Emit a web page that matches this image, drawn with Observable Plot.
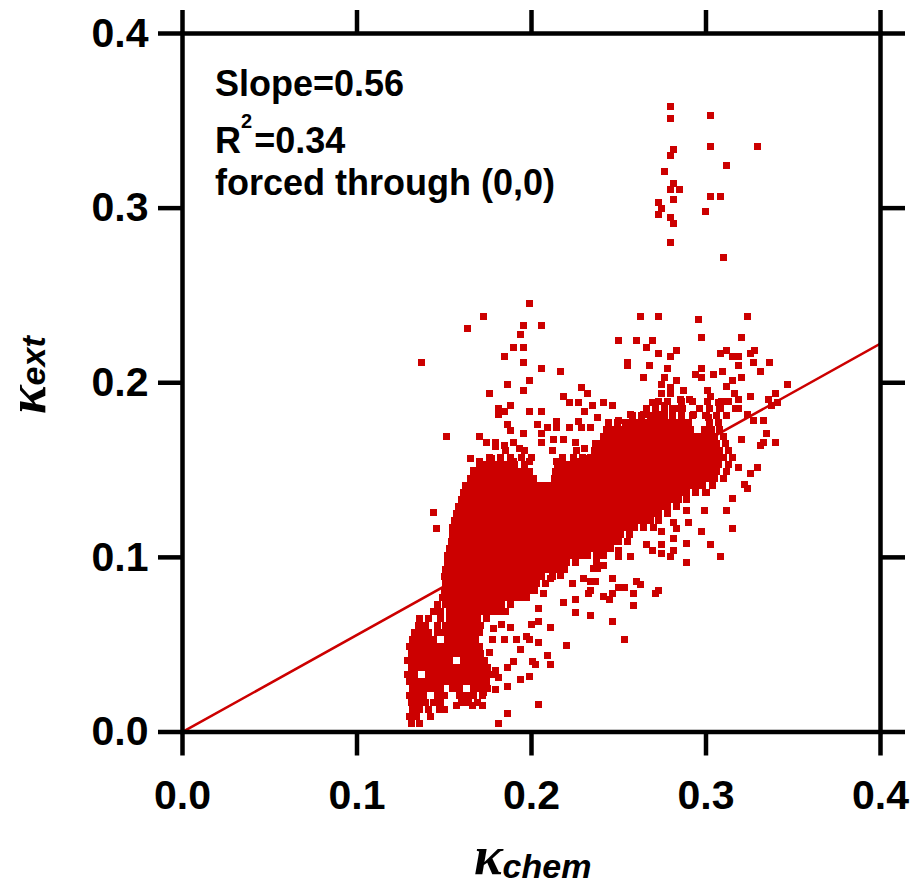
<!DOCTYPE html>
<html><head><meta charset="utf-8">
<script src="https://cdn.jsdelivr.net/npm/d3@7"></script>
<script src="https://cdn.jsdelivr.net/npm/@observablehq/plot@0.6"></script>
<style>body{margin:0;background:#fff;}</style>
</head><body><div id="chart"></div>
<script>
const xTicks = [0, 0.1, 0.2, 0.3, 0.4];
const yTicks = [0, 0.1, 0.2, 0.3, 0.4];
const fitSlope = 0.556;
const fitRange = [0, 0.4];
const slopeText = "Slope=0.56";
const r2Label = ["R", "2", "=0.34"];
const forcedText = "forced through (0,0)";
const xTitle = ["κ", "chem"];
const yTitle = ["κ", "ext"];

// rows: [kappa_ext, kappa_chem values...]
const lobeRows = [
[0.005, 0.131, 0.136],
[0.009, 0.130, 0.134, 0.142],
[0.013, 0.132, 0.136, 0.141, 0.147, 0.150],
[0.015, 0.157, 0.166, 0.172],
[0.017, 0.131, 0.135, 0.139, 0.144, 0.148, 0.160, 0.164, 0.169],
[0.021, 0.130, 0.134, 0.138, 0.146, 0.150, 0.159, 0.163, 0.167, 0.172],
[0.025, 0.132, 0.136, 0.140, 0.144, 0.148, 0.155, 0.159, 0.167, 0.171, 0.175],
[0.029, 0.130, 0.134, 0.138, 0.142, 0.146, 0.150, 0.154, 0.158, 0.162, 0.166, 0.170, 0.174],
[0.033, 0.129, 0.133, 0.141, 0.145, 0.149, 0.153, 0.157, 0.161, 0.165, 0.169, 0.173, 0.177],
[0.037, 0.131, 0.135, 0.139, 0.143, 0.147, 0.151, 0.155, 0.159, 0.163, 0.167, 0.171, 0.175],
[0.041, 0.129, 0.133, 0.137, 0.141, 0.145, 0.149, 0.153, 0.161, 0.165, 0.169, 0.173],
[0.045, 0.131, 0.135, 0.139, 0.143, 0.147, 0.151, 0.155, 0.159, 0.163, 0.167, 0.171],
[0.049, 0.130, 0.134, 0.138, 0.142, 0.146, 0.150, 0.154, 0.158, 0.162, 0.166, 0.170],
[0.053, 0.132, 0.136, 0.140, 0.144, 0.152, 0.156, 0.160, 0.164, 0.168],
[0.057, 0.133, 0.137, 0.141, 0.146, 0.150, 0.154, 0.158, 0.162, 0.166, 0.170],
[0.061, 0.135, 0.139, 0.146, 0.151, 0.155, 0.159, 0.163, 0.167, 0.171],
[0.065, 0.136, 0.141, 0.148, 0.153, 0.157, 0.161, 0.165, 0.169, 0.174]
];

const bandRows = [
[0.069, 0.144, 0.148, 0.153, 0.157, 0.161, 0.165, 0.169, 0.173, 0.177, 0.181, 0.185],
[0.073, 0.146, 0.151, 0.155, 0.159, 0.163, 0.167, 0.171, 0.175, 0.179, 0.183, 0.188],
[0.077, 0.149, 0.153, 0.157, 0.161, 0.165, 0.169, 0.173, 0.177, 0.181, 0.185, 0.189, 0.193, 0.197],
[0.081, 0.150, 0.154, 0.158, 0.162, 0.166, 0.170, 0.174, 0.178, 0.182, 0.186, 0.190, 0.194, 0.198, 0.202],
[0.085, 0.151, 0.155, 0.159, 0.163, 0.167, 0.171, 0.175, 0.179, 0.183, 0.187, 0.191, 0.195, 0.199, 0.203, 0.208],
[0.089, 0.150, 0.154, 0.158, 0.162, 0.166, 0.170, 0.174, 0.178, 0.182, 0.186, 0.190, 0.194, 0.198, 0.202, 0.206, 0.212],
[0.093, 0.151, 0.155, 0.159, 0.163, 0.167, 0.171, 0.175, 0.179, 0.183, 0.187, 0.191, 0.195, 0.199, 0.203, 0.207, 0.211, 0.215, 0.219],
[0.097, 0.152, 0.156, 0.160, 0.164, 0.168, 0.172, 0.176, 0.180, 0.184, 0.188, 0.192, 0.196, 0.200, 0.204, 0.208, 0.212, 0.216, 0.220, 0.225, 0.237],
[0.101, 0.152, 0.156, 0.160, 0.164, 0.168, 0.172, 0.176, 0.180, 0.184, 0.188, 0.192, 0.196, 0.200, 0.204, 0.208, 0.212, 0.216, 0.220, 0.224, 0.228, 0.232, 0.237, 0.241],
[0.105, 0.153, 0.157, 0.161, 0.165, 0.169, 0.173, 0.177, 0.181, 0.185, 0.189, 0.193, 0.197, 0.201, 0.205, 0.209, 0.213, 0.217, 0.221, 0.225, 0.229, 0.233, 0.237, 0.241, 0.245],
[0.109, 0.154, 0.158, 0.162, 0.166, 0.170, 0.174, 0.178, 0.182, 0.186, 0.190, 0.194, 0.198, 0.202, 0.206, 0.210, 0.214, 0.218, 0.222, 0.226, 0.230, 0.234, 0.238, 0.242, 0.246, 0.250, 0.255],
[0.113, 0.155, 0.159, 0.163, 0.167, 0.171, 0.175, 0.179, 0.183, 0.187, 0.191, 0.195, 0.199, 0.203, 0.207, 0.211, 0.215, 0.219, 0.223, 0.227, 0.231, 0.235, 0.239, 0.243, 0.247, 0.251, 0.256],
[0.117, 0.155, 0.159, 0.163, 0.167, 0.171, 0.175, 0.179, 0.183, 0.187, 0.191, 0.195, 0.199, 0.203, 0.207, 0.211, 0.215, 0.219, 0.223, 0.227, 0.231, 0.235, 0.239, 0.243, 0.247, 0.251, 0.255, 0.259, 0.264, 0.270],
[0.121, 0.156, 0.160, 0.164, 0.168, 0.172, 0.176, 0.180, 0.184, 0.188, 0.192, 0.196, 0.200, 0.204, 0.208, 0.212, 0.216, 0.220, 0.224, 0.228, 0.232, 0.236, 0.240, 0.244, 0.248, 0.252, 0.256, 0.260, 0.264, 0.268, 0.273],
[0.125, 0.157, 0.161, 0.165, 0.169, 0.173, 0.177, 0.181, 0.185, 0.189, 0.193, 0.197, 0.201, 0.205, 0.209, 0.213, 0.217, 0.221, 0.225, 0.229, 0.233, 0.237, 0.241, 0.245, 0.249, 0.253, 0.257, 0.261, 0.265, 0.269, 0.273, 0.278],
[0.129, 0.158, 0.162, 0.166, 0.170, 0.174, 0.178, 0.182, 0.186, 0.190, 0.194, 0.198, 0.202, 0.206, 0.210, 0.214, 0.218, 0.222, 0.226, 0.230, 0.234, 0.238, 0.242, 0.246, 0.250, 0.254, 0.258, 0.262, 0.266, 0.270, 0.274, 0.278, 0.283],
[0.133, 0.160, 0.164, 0.168, 0.172, 0.176, 0.180, 0.184, 0.188, 0.192, 0.196, 0.200, 0.204, 0.208, 0.212, 0.216, 0.220, 0.224, 0.228, 0.232, 0.236, 0.240, 0.244, 0.248, 0.252, 0.256, 0.260, 0.264, 0.268, 0.272, 0.276, 0.280, 0.284, 0.289],
[0.137, 0.161, 0.165, 0.169, 0.173, 0.177, 0.181, 0.185, 0.189, 0.193, 0.197, 0.201, 0.205, 0.209, 0.213, 0.217, 0.221, 0.225, 0.229, 0.233, 0.237, 0.241, 0.245, 0.249, 0.253, 0.257, 0.261, 0.265, 0.269, 0.273, 0.277, 0.281, 0.285, 0.289, 0.294, 0.300],
[0.141, 0.162, 0.166, 0.170, 0.174, 0.178, 0.182, 0.186, 0.190, 0.194, 0.198, 0.202, 0.206, 0.210, 0.214, 0.218, 0.222, 0.226, 0.230, 0.234, 0.238, 0.242, 0.246, 0.250, 0.254, 0.258, 0.262, 0.266, 0.270, 0.274, 0.278, 0.282, 0.286, 0.290, 0.294, 0.298, 0.304],
[0.145, 0.165, 0.169, 0.173, 0.177, 0.181, 0.185, 0.189, 0.193, 0.197, 0.201, 0.213, 0.217, 0.221, 0.225, 0.229, 0.233, 0.237, 0.241, 0.245, 0.249, 0.253, 0.257, 0.261, 0.265, 0.269, 0.273, 0.277, 0.281, 0.285, 0.289, 0.293, 0.297, 0.301, 0.305, 0.310],
[0.149, 0.167, 0.171, 0.175, 0.179, 0.183, 0.187, 0.191, 0.195, 0.199, 0.214, 0.218, 0.222, 0.226, 0.230, 0.234, 0.238, 0.242, 0.246, 0.250, 0.254, 0.258, 0.262, 0.266, 0.270, 0.274, 0.278, 0.282, 0.286, 0.290, 0.294, 0.298, 0.302, 0.306, 0.312],
[0.153, 0.170, 0.174, 0.178, 0.182, 0.186, 0.190, 0.196, 0.215, 0.219, 0.223, 0.227, 0.231, 0.235, 0.239, 0.243, 0.247, 0.251, 0.255, 0.259, 0.263, 0.267, 0.271, 0.275, 0.279, 0.283, 0.287, 0.291, 0.295, 0.299, 0.303, 0.307, 0.313],
[0.157, 0.176, 0.182, 0.188, 0.194, 0.200, 0.218, 0.224, 0.229, 0.234, 0.238, 0.242, 0.246, 0.250, 0.254, 0.258, 0.262, 0.266, 0.270, 0.274, 0.278, 0.282, 0.286, 0.290, 0.294, 0.298, 0.302, 0.306, 0.310, 0.315],
[0.161, 0.185, 0.196, 0.212, 0.226, 0.236, 0.240, 0.244, 0.248, 0.252, 0.256, 0.260, 0.264, 0.268, 0.272, 0.276, 0.280, 0.284, 0.288, 0.292, 0.296, 0.300, 0.304, 0.308, 0.313],
[0.165, 0.238, 0.242, 0.246, 0.250, 0.254, 0.258, 0.262, 0.266, 0.270, 0.274, 0.278, 0.282, 0.286, 0.290, 0.294, 0.298, 0.302, 0.306, 0.311],
[0.169, 0.241, 0.245, 0.249, 0.253, 0.257, 0.261, 0.265, 0.269, 0.273, 0.277, 0.281, 0.285, 0.289, 0.293, 0.297, 0.301, 0.305, 0.310],
[0.173, 0.243, 0.247, 0.251, 0.255, 0.259, 0.263, 0.267, 0.271, 0.275, 0.279, 0.283, 0.287, 0.291, 0.299, 0.303, 0.308],
[0.177, 0.244, 0.249, 0.254, 0.258, 0.262, 0.266, 0.270, 0.274, 0.278, 0.282, 0.286, 0.290, 0.302, 0.307],
[0.181, 0.258, 0.263, 0.268, 0.272, 0.276, 0.281, 0.286, 0.292, 0.300, 0.306, 0.312],
[0.185, 0.266, 0.271, 0.276, 0.281, 0.285, 0.296, 0.302, 0.308, 0.317],
[0.189, 0.273, 0.278, 0.286, 0.292, 0.301, 0.309, 0.313]
];

// scattered points [kappa_chem, kappa_ext]
const scatterPts = [
[0.1989,0.2454],[0.1725,0.2380],[0.1633,0.2311],[0.1954,0.2328],[0.2057,0.2328],[0.1937,0.2277],
[0.1897,0.2202],[0.1954,0.2202],[0.1845,0.2151],[0.1370,0.2117],[0.1954,0.2117],[0.2057,0.2082],
[0.2166,0.2065],[0.1989,0.2013],[0.1862,0.1990],[0.1759,0.1939],[0.1954,0.1956],[0.2287,0.1973],
[0.2321,0.1939],[0.2183,0.1922],[0.2218,0.1887],[0.2269,0.1887],[0.2350,0.1870],[0.1880,0.1870],
[0.1811,0.1853],[0.1845,0.1836],[0.1811,0.1818],[0.1989,0.1836],[0.2057,0.1836],[0.2304,0.1836],
[0.1862,0.1761],[0.1880,0.1727],[0.2034,0.1761],[0.2092,0.1744],[0.2143,0.1778],[0.2143,0.1744],
[0.2218,0.1744],[0.2269,0.1778],[0.2287,0.1744],[0.2338,0.1744],[0.1513,0.1692],[0.1702,0.1692],
[0.1954,0.1710],[0.2057,0.1710],[0.1742,0.1658],[0.1794,0.1658],[0.1794,0.1635],[0.1845,0.1641],
[0.1897,0.1658],[0.2126,0.1675],[0.2183,0.1675],[0.2252,0.1658],[0.2304,0.1624],[0.1931,0.1624],
[0.2057,0.1658],[0.1650,0.1566],[0.1702,0.1549],[0.1668,0.1498],[0.1771,0.1566],[0.1897,0.1549],
[0.1989,0.1549],[0.2143,0.1549],[0.2269,0.1549],[0.2327,0.1566],[0.1438,0.1258],[0.1456,0.1166],
[0.2625,0.2380],[0.2728,0.2380],[0.2957,0.2363],[0.3238,0.2380],[0.2499,0.2242],[0.2602,0.2242],
[0.2693,0.2242],[0.2659,0.2202],[0.2974,0.2259],[0.3203,0.2259],[0.2728,0.2168],[0.2831,0.2185],
[0.2797,0.2151],[0.3083,0.2168],[0.3117,0.2185],[0.3152,0.2151],[0.3186,0.2151],[0.3255,0.2168],
[0.3278,0.2185],[0.2550,0.2117],[0.2550,0.2099],[0.2676,0.2099],[0.2779,0.2082],[0.2974,0.2082],
[0.3186,0.2099],[0.3272,0.2117],[0.3364,0.2117],[0.2642,0.2030],[0.2762,0.2030],[0.2831,0.2013],
[0.2940,0.2048],[0.2974,0.2030],[0.3043,0.2048],[0.3095,0.2065],[0.3312,0.2065],[0.3152,0.2013],
[0.3203,0.2030],[0.3467,0.1990],[0.2745,0.1990],[0.2797,0.1973],[0.2871,0.1956],[0.3009,0.1956],
[0.3117,0.1979],[0.2745,0.1939],[0.2797,0.1939],[0.3163,0.1939],[0.3255,0.1922],[0.3398,0.1939],
[0.2413,0.1887],[0.2464,0.1870],[0.2693,0.1887],[0.2762,0.1870],[0.2854,0.1904],[0.2905,0.1904],
[0.3026,0.1922],[0.3072,0.1887],[0.3186,0.1904],[0.3358,0.1904],[0.3410,0.1887],[0.3375,0.1870],
[0.2378,0.1801],[0.2567,0.1818],[0.2642,0.1818],[0.2499,0.1784],[0.2739,0.1818],[0.2865,0.1853],
[0.2928,0.1818],[0.3014,0.1801],[0.3083,0.1853],[0.3186,0.1853],[0.3238,0.1818],[0.3272,0.1784],
[0.3330,0.1784],[0.2441,0.1750],[0.3347,0.1710],[0.3398,0.1658],[0.3312,0.1641],[0.3330,0.1658],
[0.3203,0.1675],[0.3295,0.1515],[0.3255,0.1481],[0.3186,0.1515],[0.3221,0.1418],[0.3238,0.1395],
[0.3152,0.1337],[0.3117,0.1269],[0.2888,0.1269],[0.2367,0.1652],[0.2413,0.1589],[0.2378,0.1549],
[0.2441,0.1418],
[0.2991,0.1269],[0.3152,0.1166],[0.2974,0.1148],[0.3026,0.1074],[0.3083,0.1005],[0.2888,0.0971],
[0.2888,0.1080],[0.2814,0.1108],[0.2831,0.1166],[0.2814,0.1200],[0.2900,0.1200],[0.2745,0.1148],
[0.2659,0.1074],[0.2745,0.1074],[0.2693,0.1040],[0.2745,0.1022],[0.2814,0.1040],[0.2797,0.1005],
[0.2567,0.1005],[0.2499,0.1040],[0.2499,0.1005],[0.2413,0.0954],[0.2378,0.0936],[0.2464,0.0879],
[0.2367,0.0862],[0.2602,0.0862],[0.2625,0.0845],[0.2499,0.0828],[0.2533,0.0828],[0.2464,0.0793],
[0.2413,0.0776],[0.2447,0.0759],[0.2585,0.0793],[0.2728,0.0810],[0.2711,0.0793],[0.2585,0.0725],
[0.2464,0.0633],[0.2533,0.0530],
[0.2109,0.0387],[0.2092,0.0438],[0.2023,0.0387],[0.2006,0.0404],[0.1897,0.0404],[0.1862,0.0369],
[0.1811,0.0312],[0.1794,0.0352],[0.1759,0.0455],[0.1777,0.0530],[0.1845,0.0530],[0.1914,0.0530],
[0.1937,0.0473],[0.1971,0.0547],[0.1989,0.0530],[0.2040,0.0513],[0.2109,0.0599],[0.2040,0.0633],
[0.2000,0.0616],[0.1880,0.0599],[0.1828,0.0616],[0.1782,0.0593],[0.2201,0.0496],[0.2252,0.0685],
[0.2338,0.0668],[0.2183,0.0742],[0.2252,0.0759],[0.2327,0.0793],[0.2338,0.0810],[0.2298,0.0879],
[0.2235,0.0851],[0.2166,0.0896],[0.2109,0.0879],[0.2069,0.0793],[0.2040,0.0707],[0.2338,0.0862],
[0.2355,0.0936],[0.1937,0.0301],[0.1989,0.0318],[0.2040,0.0157],[0.1725,0.0226],[0.1811,0.0049],
[0.1862,0.0106],[0.1628,0.0203],[0.1862,0.0260],[0.1794,0.0243]
];

const outlierPts = [
[0.2795,0.3582],[0.2795,0.3514],[0.3024,0.3532],[0.2812,0.3337],[0.2795,0.3302],[0.3024,0.3354],
[0.3294,0.3354],[0.3116,0.3245],[0.2760,0.3211],[0.2812,0.3142],[0.2795,0.3107],[0.2846,0.3107],
[0.2812,0.3050],[0.3024,0.3067],[0.3082,0.3067],[0.2725,0.3033],[0.2743,0.2999],[0.2725,0.2964],
[0.2997,0.2981],[0.2795,0.2947],[0.2812,0.2913],[0.2795,0.2804],[0.3099,0.2718]
];

const points = [];
for (const row of [...lobeRows, ...bandRows]) {
  for (let i = 1; i < row.length; i++) points.push({x: row[i], y: row[0]});
}
for (const [x, y] of [...scatterPts, ...outlierPts]) points.push({x, y});
const fit = fitRange.map(x => ({x, y: fitSlope * x}));

const red = "#cc0000";
const fmt = d3.format(".1f");
const svg = Plot.plot({
  width: 915, height: 885,
  marginLeft: 182, marginRight: 35, marginTop: 33, marginBottom: 153.5,
  style: {fontFamily: "'Liberation Sans', Arial, sans-serif", background: "#fff", color: "#000"},
  x: {domain: [0, 0.4]},
  y: {domain: [0, 0.4]},
  marks: [
    Plot.line(fit, {x: "x", y: "y", stroke: red, strokeWidth: 2.5, clip: true}),
    Plot.dot(points, {x: "x", y: "y", symbol: "square", r: 3.95, fill: red, shapeRendering: "crispEdges"}),
    Plot.frame({stroke: "#000", strokeWidth: 4.5}),
    Plot.axisX(xTicks, {anchor: "bottom", tickSize: 24, tickPadding: 24, strokeWidth: 4.5, tickFormat: fmt, fontSize: 41, fontWeight: "bold", label: null}),
    Plot.axisX(xTicks, {anchor: "top", tickSize: 24, strokeWidth: 4.5, tickFormat: () => "", label: null}),
    Plot.axisY(yTicks, {anchor: "left", tickSize: 24, tickPadding: 10, strokeWidth: 4.5, tickFormat: fmt, fontSize: 41, fontWeight: "bold", label: null}),
    Plot.axisY(yTicks, {anchor: "right", tickSize: 24, strokeWidth: 4.5, tickFormat: () => "", label: null})
  ]
});
document.getElementById("chart").appendChild(svg);

const s = d3.select(svg);
const ann = s.append("g").attr("font-family", "'Liberation Sans', Arial, sans-serif").attr("font-weight", "bold").attr("font-size", 36).attr("fill", "#000").attr("text-anchor", "start");
ann.append("text").attr("x", 215).attr("y", 96).text(slopeText);
const r2 = ann.append("text").attr("x", 215).attr("y", 153);
r2.append("tspan").text(r2Label[0]);
r2.append("tspan").attr("dy", -25).attr("font-size", 20).text(r2Label[1]);
r2.append("tspan").attr("dy", 25).attr("dx", 2).text(r2Label[2]);
ann.append("text").attr("x", 215).attr("y", 195).text(forcedText);

const xt = s.append("text").attr("x", 474).attr("y", 874).attr("text-anchor", "start").attr("font-weight", "bold").attr("font-style", "italic").attr("fill", "#000");
xt.append("tspan").attr("font-family", "'Liberation Serif', serif").attr("font-size", 54).text(xTitle[0]);
xt.append("tspan").attr("font-family", "'Liberation Sans', Arial, sans-serif").attr("font-size", 34).attr("dy", 4).text(xTitle[1]);

const yt = s.append("text").attr("transform", "translate(45,414) rotate(-90)").attr("text-anchor", "start").attr("font-weight", "bold").attr("font-style", "italic").attr("fill", "#000");
yt.append("tspan").attr("font-family", "'Liberation Serif', serif").attr("font-size", 54).text(yTitle[0]);
yt.append("tspan").attr("font-family", "'Liberation Sans', Arial, sans-serif").attr("font-size", 34).text(yTitle[1]);
</script>
</body></html>
